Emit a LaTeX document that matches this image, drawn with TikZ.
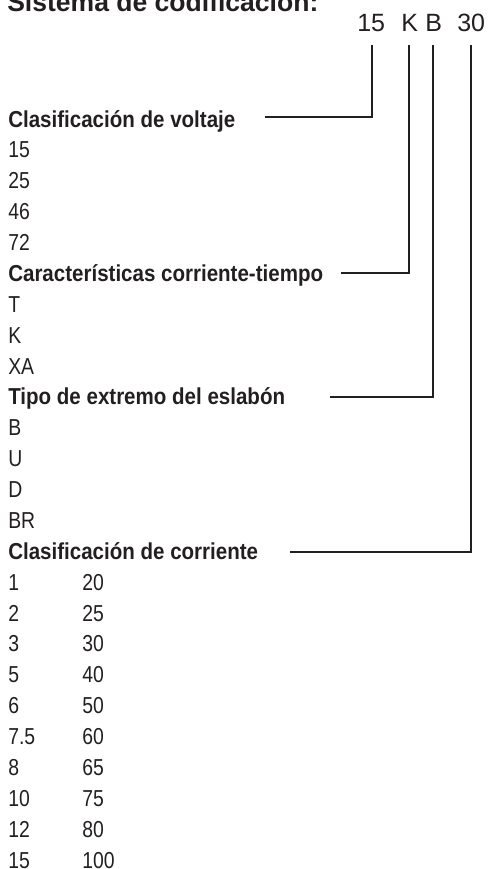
\documentclass[tikz,border=0pt]{standalone}
\usepackage{fontspec}
\setmainfont{Liberation Sans}
\newfontfamily\condreg{Liberation Sans}[FakeStretch=0.84]
\newfontfamily\condbold{Liberation Sans}[FakeStretch=0.89]
\definecolor{ink}{HTML}{231F20}
\begin{document}
\begin{tikzpicture}[x=0.75pt,y=-0.75pt,
  hdr/.style={anchor=base west, inner sep=0pt, font=\condbold\bfseries\fontsize{17.3}{20}\selectfont, text=ink},
  val/.style={anchor=base west, inner sep=0pt, font=\condreg\fontsize{17.3}{20}\selectfont, text=ink},
  codetxt/.style={anchor=base west, inner sep=0pt, font=\fontsize{18.75}{22}\selectfont, text=ink},
  titletxt/.style={anchor=base west, inner sep=0pt, font=\bfseries\fontsize{19.9}{24}\selectfont, text=ink},
  conn/.style={draw=ink, line width=1.4pt}]
\useasboundingbox (0,0) rectangle (489,869);
\def\rowy#1{127+30.875*#1}
% title and code
\node[titletxt] (title) at (7,11) {Sistema de codificación:};
\node[codetxt] (c15) at (357,31) {15};
\node[codetxt] (cK) at (401,31) {K};
\node[codetxt] (cB) at (425,31) {B};
\node[codetxt] (c30) at (457,31) {30};
% headers
\node[hdr] (h1) at (8,{\rowy{0}}) {Clasificación de voltaje};
\node[hdr] (h2) at (8,{\rowy{5}}) {Características corriente-tiempo};
\node[hdr] (h3) at (8,{\rowy{9}}) {Tipo de extremo del eslabón};
\node[hdr] (h4) at (8,{\rowy{14}}) {Clasificación de corriente};
% voltage values
\node[val] (v1) at (8,{\rowy{1}}) {15};
\node[val] (v2) at (8,{\rowy{2}}) {25};
\node[val] (v3) at (8,{\rowy{3}}) {46};
\node[val] (v4) at (8,{\rowy{4}}) {72};
% time-current
\node[val] (t1) at (8,{\rowy{6}}) {T};
\node[val] (t2) at (8,{\rowy{7}}) {K};
\node[val] (t3) at (8,{\rowy{8}}) {XA};
% link end type
\node[val] (e1) at (8,{\rowy{10}}) {B};
\node[val] (e2) at (8,{\rowy{11}}) {U};
\node[val] (e3) at (8,{\rowy{12}}) {D};
\node[val] (e4) at (8,{\rowy{13}}) {BR};
% current ratings
\foreach \a/\b [count=\i from 15] in {1/20,2/25,3/30,5/40,6/50,7.5/60,8/65,10/75,12/80,15/100}{
  \node[val] (ra\i) at (8,{\rowy{\i}}) {\a};
  \node[val] (rb\i) at (82,{\rowy{\i}}) {\b};
}
% connector coordinates
\coordinate (t15) at (372,45);
\coordinate (tK) at (409,45);
\coordinate (tB) at (433,45);
\coordinate (t30) at (471,45);
\coordinate (s1) at (265,117);
\coordinate (s2) at (341,273);
\coordinate (s3) at (330,397);
\coordinate (s4) at (290,552);
\draw[conn] (t15) |- (s1);
\draw[conn] (tK) |- (s2);
\draw[conn] (tB) |- (s3);
\draw[conn] (t30) |- (s4);
\end{tikzpicture}
\end{document}
